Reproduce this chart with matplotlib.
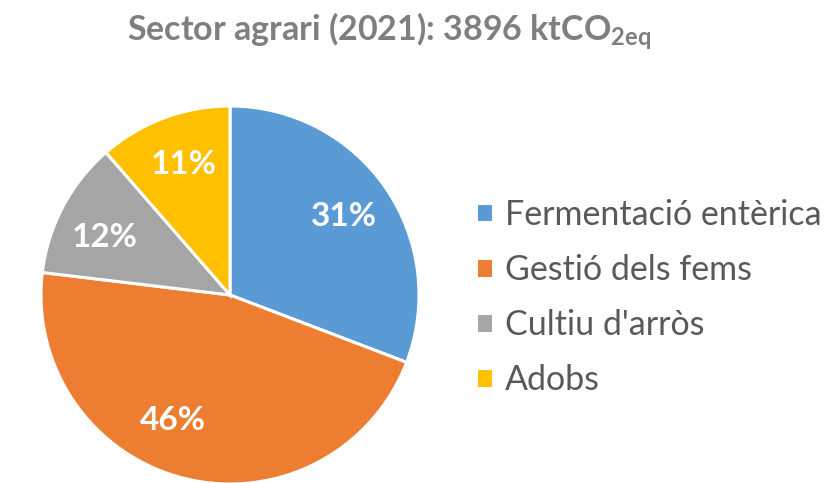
import matplotlib.pyplot as plt
import numpy as np

plt.rcParams['font.family'] = ['Lato', 'DejaVu Sans']
plt.rcParams['mathtext.default'] = 'regular'

# dades del sector agrari (2021), % del total
categories = ['Fermentació entèrica', 'Gestió dels fems', "Cultiu d'arròs", 'Adobs']
shares = [30.8, 46.1, 11.7, 11.4]
colors = ['#5B9BD5', '#ED7D31', '#A5A5A5', '#FFC000']

W, H = 833, 483
fig = plt.figure(figsize=(W / 100, H / 100), dpi=100)

cx, cy, R = 230, 295, 189
ax = fig.add_axes([(cx - R) / W, (H - cy - R) / H, 2 * R / W, 2 * R / H])
wedges, _ = ax.pie(shares, colors=colors, startangle=90, counterclock=False,
                   wedgeprops=dict(edgecolor='white', linewidth=2.2))
ax.set_xlim(-1, 1)
ax.set_ylim(-1, 1)

# etiquetes de percentatge dins de cada sector
nudge = [0, -10.5, 3.3, -1]
for w, s, dn in zip(wedges, shares, nudge):
    ang = np.deg2rad((w.theta1 + w.theta2) / 2 + dn)
    ax.text(0.73 * np.cos(ang), 0.73 * np.sin(ang), f'{round(s)}%', color='white',
            fontsize=24, fontweight='bold', ha='center', va='center')

fig.text(0.467, 0.935, r'Sector agrari (2021): 3896 ktCO$_{2eq}$', color='#7F7F7F',
         fontsize=24.5, fontweight='bold', ha='center', va='center')

fig.legend(wedges, categories, loc='center left', bbox_to_anchor=(0.535, 0.384),
           frameon=False, fontsize=24.5, handlelength=0.5, handleheight=0.5,
           handletextpad=0.35, labelspacing=0.68, labelcolor='#595959')

fig.savefig('out.png', dpi=100)
